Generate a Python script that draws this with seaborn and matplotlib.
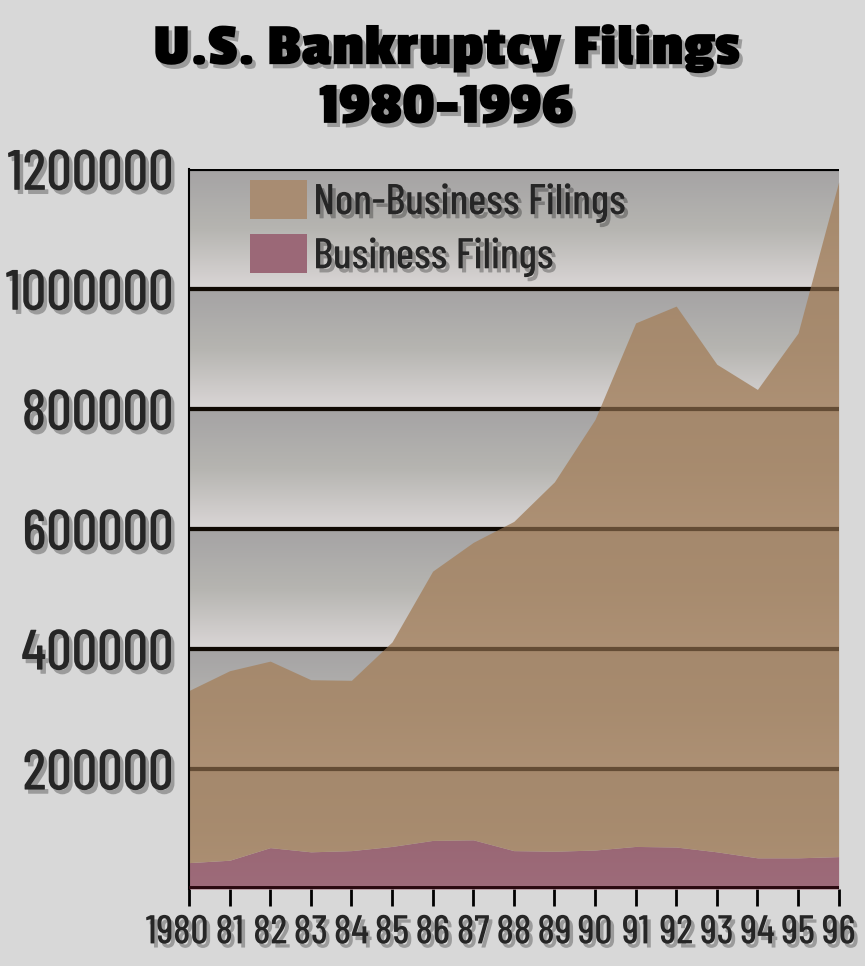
import numpy as np
import matplotlib
matplotlib.use("Agg")
import matplotlib.pyplot as plt
import matplotlib.patheffects as pe
from matplotlib.colors import LinearSegmentedColormap
from matplotlib.transforms import ScaledTranslation
import seaborn as sns

# values
years = [1980, 1981, 1982, 1983, 1984, 1985, 1986, 1987, 1988,
         1989, 1990, 1991, 1992, 1993, 1994, 1995, 1996]
business = [44000, 48000, 69000, 62000, 64000, 71000, 81000, 82000, 64000,
            63000, 65000, 71000, 70000, 62000, 52000, 52000, 54000]
non_business = [287000, 316000, 311000, 287000, 284000, 341000, 449000, 496000, 549000,
                616000, 718000, 873000, 902000, 813000, 781000, 875000, 1125000]
year_labels = ["1980", "81", "82", "83", "84", "85", "86", "87", "88",
               "89", "90", "91", "92", "93", "94", "95", "96"]
y_ticks = [200000, 400000, 600000, 800000, 1000000, 1200000]
series_names = ["Non-Business Filings", "Business Filings"]

bg = "#d8d8d8"
sns.set_theme(style="white", rc={"figure.facecolor": bg, "axes.facecolor": bg})
plt.rcParams["font.family"] = ["Barlow Condensed", "DejaVu Sans"]
plt.rcParams["font.weight"] = "medium"

shadow = [pe.withSimplePatchShadow(offset=(2.5, -3), shadow_rgbFace="black", alpha=0.28)]

fig = plt.figure(figsize=(8.65, 9.66), dpi=100)
ax = fig.add_axes([0.2185, 0.0797, 0.751, 0.745])

# banded gradient background between grid lines
band_cmap = LinearSegmentedColormap.from_list("band", ["#dad6d6", "#b6b5b1", "#a5a3a4"])
grad = np.linspace(0, 1, 64).reshape(-1, 1)
edges = [0] + y_ticks
for lo, hi in zip(edges[:-1], edges[1:]):
    ax.imshow(grad, extent=(years[0], years[-1], lo, hi), origin="lower",
              aspect="auto", cmap=band_cmap, zorder=0)

for t in y_ticks:
    ax.axhline(t, color="black", lw=3, zorder=1)

polys = ax.stackplot(years, business, non_business,
                     colors=["#935869", "#a58463"], alpha=0.85, zorder=2, lw=0)
# grid lines show through the filled areas as dark bands
for t in y_ticks[:-1]:
    ax.axhline(t, color="#2a1808", lw=3, alpha=0.4, zorder=2.5)
ax.axhline(0, color="#2a0a10", lw=5, zorder=3)

ax.set_xlim(years[0], years[-1])
ax.set_ylim(0, 1200000)
ax.set_xticks(years)
ax.set_xticklabels(year_labels, fontsize=29, path_effects=shadow)
ax.set_yticks(y_ticks)
ax.set_yticklabels([str(t) for t in y_ticks], fontsize=41, path_effects=shadow)
ax.tick_params(axis="x", length=12, width=2, color="black", bottom=True, pad=7)
ax.tick_params(axis="y", length=0, pad=11)
first = ax.get_xticklabels()[0]
first.set_transform(first.get_transform() + ScaledTranslation(-0.12, 0, fig.dpi_scale_trans))

for s in ["top", "right", "bottom"]:
    ax.spines[s].set_visible(False)
ax.spines["left"].set_color("black")
ax.spines["left"].set_linewidth(1.5)

leg = ax.legend([polys[1], polys[0]], series_names, loc="upper left",
                bbox_to_anchor=(0.094, 0.985), frameon=False, fontsize=31,
                handlelength=1.32, handleheight=1.0, handletextpad=0.15,
                labelspacing=0.27, borderpad=0, borderaxespad=0)
for txt in leg.get_texts():
    txt.set_path_effects(shadow)
for h, c in zip(leg.legend_handles, ["#a88c72", "#9b6877"]):
    h.set_alpha(1)
    h.set_facecolor(c)

fig.text(0.516, 0.975, "U.S. Bankruptcy Filings\n1980-1996", ha="center", va="top",
         fontsize=44, family=["Passion One", "Francois One", "Anton"], fontweight="bold",
         linespacing=1.3, color="black", path_effects=shadow)

fig.savefig("out.png", dpi=100, facecolor=bg)
